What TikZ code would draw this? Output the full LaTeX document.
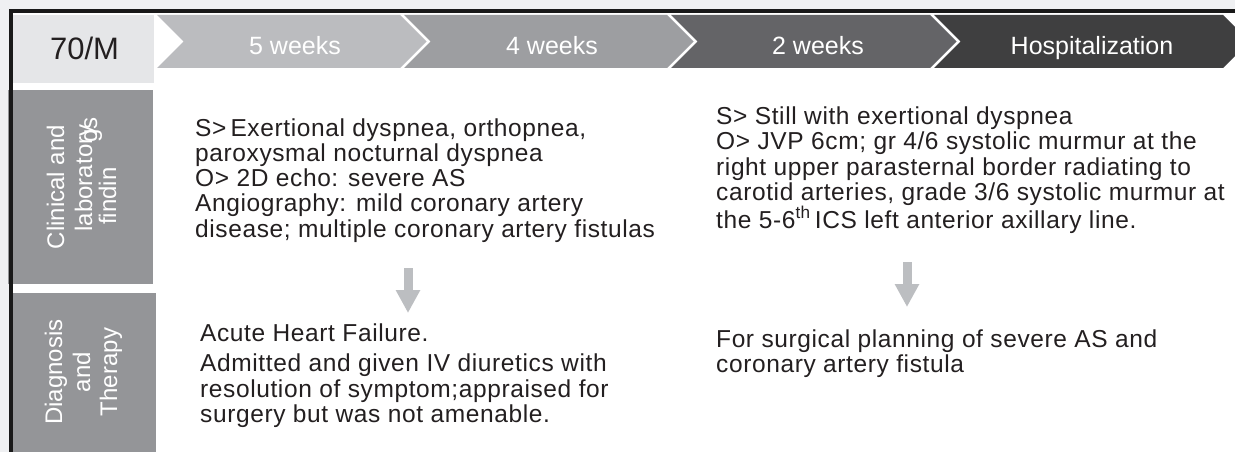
\documentclass[tikz,border=0pt]{standalone}
\usepackage{fontspec}
\setmainfont{Liberation Sans}
\newfontfamily\bodyfont{Liberation Sans}[LetterSpace=2.5]
\usetikzlibrary{arrows.meta}

\definecolor{panelgray}{HTML}{EFF0F2}
\definecolor{agegray}{HTML}{E5E6E8}
\definecolor{wkA}{HTML}{BBBCBF}
\definecolor{wkB}{HTML}{9D9EA1}
\definecolor{wkC}{HTML}{646467}
\definecolor{wkD}{HTML}{3F3F40}
\definecolor{rowgray}{HTML}{949598}
\definecolor{arrowgray}{HTML}{BCBEC1}
\definecolor{textdark}{HTML}{231F20}

\begin{document}
\begin{tikzpicture}[x=1pt,y=-1pt]
\tikzset{
  hdlabel/.style={text=white,font=\fontsize{25}{30}\selectfont,inner sep=0pt,anchor=base},
  rowlabel/.style={text=white,font=\fontsize{24}{28}\selectfont,inner sep=0pt,rotate=90,anchor=base},
  bodytext/.style={text=textdark,font=\bodyfont\fontsize{24.5}{25.3}\selectfont,align=left,inner sep=0pt,anchor=base west},
  downarrow/.style={draw=arrowgray,line width=9pt,-{Triangle[width=23pt,length=23pt]}}
}
\useasboundingbox (0,0) rectangle (1235,452);
\clip (0,0) rectangle (1235,452);
\fill[panelgray] (0,0) rectangle (1235,452);
\fill[white] (11,11) rectangle (1235,452);

% header strip
\fill[agegray] (13,15) rectangle (154,83);
\fill[wkA] (157,15) -- (400,15) -- (426.5,41.5) -- (400,68) -- (157,68) -- (183.5,41.5) -- cycle;
\fill[wkB] (404,15) -- (667,15) -- (693.5,41.5) -- (667,68) -- (404,68) -- (430.5,41.5) -- cycle;
\fill[wkC] (671,15) -- (930,15) -- (956.5,41.5) -- (930,68) -- (671,68) -- (697.5,41.5) -- cycle;
\fill[wkD] (934,15) -- (1223,15) -- (1249.5,41.5) -- (1223,68) -- (934,68) -- (960.5,41.5) -- cycle;
\node[text=textdark,font=\fontsize{31}{36}\selectfont,inner sep=0pt,anchor=base] (age) at (84.5,60) {70/M};
\node[hdlabel] (wk5) at (295,55) {5 weeks};
\node[hdlabel] (wk4) at (552,55) {4 weeks};
\node[hdlabel] (wk2) at (818,55) {2 weeks};
\node[hdlabel] (hosp) at (1092,55) {Hospitalization};

% row headers
\fill[rowgray] (8,90) rectangle (153,284);
\fill[rowgray] (13,292.5) rectangle (156,452);
\node[rowlabel] (clin1) at (64,187) {Clinical and};
\node[rowlabel] (clin2) at (92,178) {laboratory};
\node[rowlabel] (clin3) at (116,196) {findin};
\node[rowlabel] (clin4) at (97,130) {gs};
\node[rowlabel] (dx1) at (62,372) {Diagnosis};
\node[rowlabel] (dx2) at (90,372) {and};
\node[rowlabel] (dx3) at (117,372) {Therapy};

% frame
\draw[line width=3.5pt,black!90] (11.2,452) -- (11.2,11.2) -- (1235,11.2);

% findings
\node[bodytext] (findL) at (195,237.2) {S>\,Exertional dyspnea, orthopnea,\\paroxysmal nocturnal dyspnea\\O> 2D echo: severe AS\\Angiography: mild coronary artery\\disease; multiple coronary artery fistulas};
\node[bodytext] (findR) at (716,228) {S> Still with exertional dyspnea\\O> JVP 6cm; gr 4/6 systolic murmur at the\\right upper parasternal border radiating to\\carotid arteries, grade 3/6 systolic murmur at\\the 5-6\textsuperscript{th}\,ICS left anterior axillary line.};

% diagnosis and therapy
\node[bodytext] (dxL) at (200,422.3) {Acute Heart Failure.\\[4.7pt]Admitted and given IV diuretics with\\resolution of symptom;appraised for\\surgery but was not amenable.};
\node[bodytext] (dxR) at (716,372.3) {For surgical planning of severe AS and\\coronary artery fistula};

% arrows
\coordinate (arrL-s) at (408,268);
\coordinate (arrL-e) at (408,313);
\coordinate (arrR-s) at (907,262);
\coordinate (arrR-e) at (907,307);
\draw[downarrow] (arrL-s) -- (arrL-e);
\draw[downarrow] (arrR-s) -- (arrR-e);
\end{tikzpicture}
\end{document}
